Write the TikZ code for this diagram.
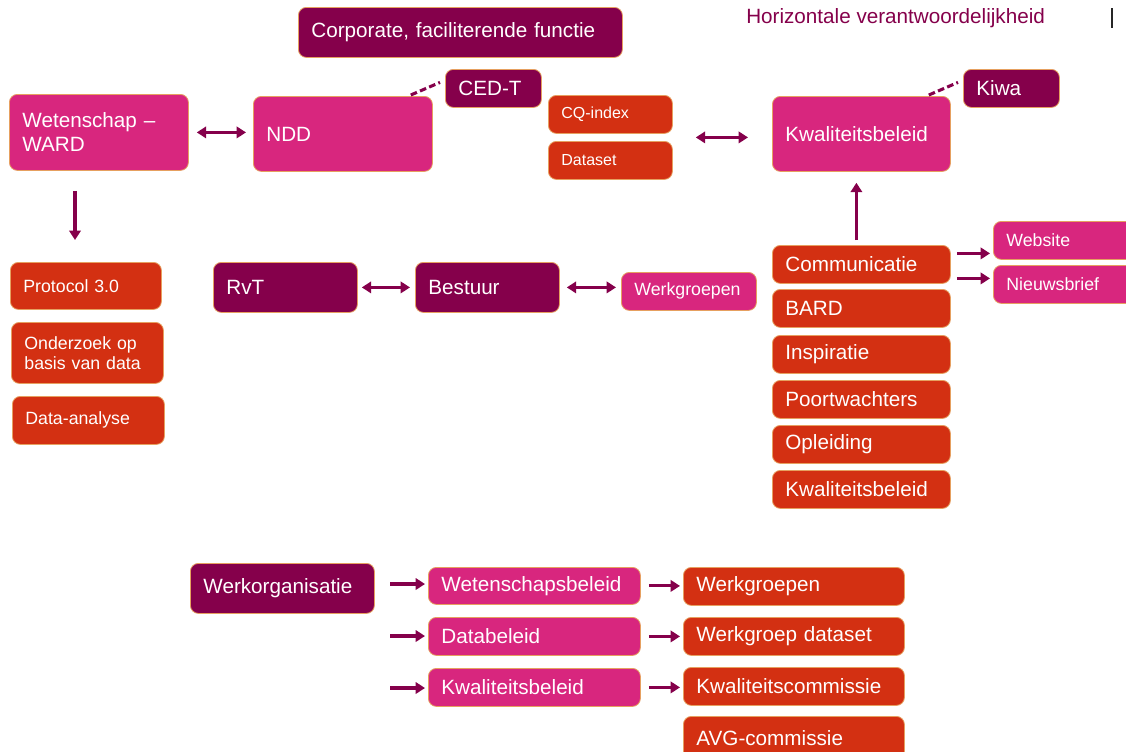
\documentclass[tikz,border=0pt]{standalone}
\usepackage{fontspec}
\setmainfont{Liberation Sans}
\usetikzlibrary{calc,arrows.meta}
\definecolor{dpurple}{HTML}{85004B}
\definecolor{mag}{HTML}{D8267E}
\definecolor{ored}{HTML}{D33012}
\definecolor{edgec}{HTML}{E6A060}
\newcommand\fbig{\fontsize{15.5}{18}\selectfont}
\newcommand\fmid{\fontsize{13.3}{15}\selectfont}
\newcommand\fsmall{\fontsize{12}{14}\selectfont}
% name, style, x1, y1, x2, y2, text
\newcommand\mybox[7]{%
  \pgfmathsetmacro\bw{(#5-#3)*0.75}%
  \pgfmathsetmacro\bh{(#6-#4)*0.75}%
  \pgfmathsetmacro\tw{(#5-#3-26)*0.75}%
  \node[#2, anchor=north west, minimum width=\bw pt, minimum height=\bh pt, text width=\tw pt] (#1) at (#3,#4) {#7};}
\tikzset{
  base/.style={rounded corners=6pt, draw=edgec, line width=0.6pt, text=white, inner xsep=9.75pt, inner ysep=0pt, align=left, font=\fbig},
  pbox/.style={base, fill=dpurple},
  mbox/.style={base, fill=mag},
  obox/.style={base, fill=ored},
  midf/.style={font=\fmid},
  smallf/.style={font=\fsmall},
  conn/.style={draw=dpurple, line width=2.3pt, -{Triangle[length=7pt,width=8.5pt]}},
  biconn/.style={draw=dpurple, line width=2.3pt, {Triangle[length=7pt,width=8.5pt]}-{Triangle[length=7pt,width=8.5pt]}},
  dashconn/.style={draw=dpurple, line width=2.3pt, dash pattern=on 5pt off 2.5pt}
}
\begin{document}
\begin{tikzpicture}[x=0.75pt,y=-0.75pt]
\fill[white] (0,0) rectangle (1126,751);
\useasboundingbox (0,0) rectangle (1126,751);

% top
\mybox{corp}{pbox}{298}{7}{622}{57}{Corporate, faciliterende functie}
\node[anchor=west, text=dpurple, font=\fbig, inner sep=0pt] (hv) at (746,18) {Horizontale verantwoordelijkheid};
\draw[line width=0.9pt, black!85] (1112,8) -- (1112,28);

\mybox{cedt}{pbox}{445}{69}{541}{107}{CED-T}
\mybox{ward}{mbox}{9}{94}{188}{170}{Wetenschap –\\WARD}
\mybox{ndd}{mbox}{253}{96}{432}{171}{NDD}
\mybox{cq}{obox,smallf}{548}{95}{672}{133}{CQ-index}
\mybox{ds}{obox,smallf}{548}{141}{672}{179}{Dataset}
\mybox{kwal}{mbox}{772}{96}{950}{171}{Kwaliteitsbeleid}
\mybox{kiwa}{pbox}{963}{69}{1059}{107}{Kiwa}

% left column
\mybox{prot}{obox,midf}{10}{262}{161}{309}{Protocol 3.0}
\mybox{ond}{obox,midf}{11}{322}{163}{383}{Onderzoek op\\basis van data}
\mybox{da}{obox,midf}{12}{396}{164}{444}{Data-analyse}

% middle row
\mybox{rvt}{pbox}{213}{262}{357}{312}{RvT}
\mybox{best}{pbox}{415}{262}{559}{312}{Bestuur}
\mybox{wg}{mbox,midf}{621}{272}{756}{310}{Werkgroepen}

% right column
\mybox{comm}{obox}{772}{245}{950}{283}{Communicatie}
\mybox{bard}{obox}{772}{289}{950}{327}{BARD}
\mybox{insp}{obox}{772}{335}{950}{373}{Inspiratie}
\mybox{poort}{obox}{772}{380}{950}{418}{Poortwachters}
\mybox{opl}{obox}{772}{425}{950}{463}{Opleiding}
\mybox{kwal2}{obox}{772}{470}{950}{508}{Kwaliteitsbeleid}
\mybox{web}{mbox,midf}{993}{221}{1140}{259}{Website}
\mybox{nieuw}{mbox,midf}{993}{265}{1140}{303}{Nieuwsbrief}

% bottom
\mybox{wo}{pbox}{190}{563}{374}{613}{Werkorganisatie}
\mybox{wb}{mbox}{428}{567}{640}{604}{Wetenschapsbeleid}
\mybox{db}{mbox}{428}{617}{640}{655}{Databeleid}
\mybox{kb}{mbox}{428}{668}{640}{706}{Kwaliteitsbeleid}
\mybox{wg2}{obox}{683}{567}{904}{605}{Werkgroepen}
\mybox{wgd}{obox}{683}{617}{904}{655}{Werkgroep dataset}
\mybox{kc}{obox}{683}{667}{904}{705}{Kwaliteitscommissie}
\mybox{avg}{obox}{683}{716}{904}{760}{AVG-commissie}

% connectors
\draw[biconn, shorten <=6pt, shorten >=5.25pt] (ward.east) -- (ward.east -| ndd.west);
\coordinate (cqds) at ($(cq.south east)!0.5!(ds.north east)$);
\draw[biconn, shorten <=17.25pt, shorten >=18pt] (cqds) -- (cqds -| kwal.west);
\draw[dashconn] ($(ndd.north east)+(-22,-1)$) -- ($(cedt.west)+(-5,-6)$);
\draw[dashconn] ($(kwal.north east)+(-22,-1)$) -- ($(kiwa.west)+(-5,-6)$);

\coordinate (wd) at ($(ward.south west)+(66,0)$);
\draw[conn, shorten <=15pt, shorten >=16.5pt] (wd) -- (wd |- prot.north);

\coordinate (cu) at ($(comm.north)+(-5,0)$);
\draw[conn, shorten <=3.75pt, shorten >=8.25pt] (cu) -- (cu |- kwal.south);

\draw[biconn, shorten <=3pt, shorten >=3.75pt] (rvt.east) -- (best.west);
\draw[biconn, shorten <=5.25pt, shorten >=3.75pt] (best.east) -- (best.east -| wg.west);

\coordinate (cw) at ($(comm.east)+(0,-11)$);
\coordinate (cn) at ($(comm.east)+(0,14)$);
\draw[conn, shorten <=4.5pt, shorten >=2.25pt] (cw) -- (cw -| web.west);
\draw[conn, shorten <=4.5pt, shorten >=2.25pt] (cn) -- (cn -| nieuw.west);

\coordinate (s1) at (390,584);
\coordinate (s2) at (390,636);
\coordinate (s3) at (390,688);
\draw[conn, shorten >=2.25pt] (s1) -- (s1 -| wb.west);
\draw[conn, shorten >=2.25pt] (s2) -- (s2 -| db.west);
\draw[conn, shorten >=2.25pt] (s3) -- (s3 -| kb.west);

\draw[conn, shorten <=6pt, shorten >=2.25pt] (wb.east) -- (wb.east -| wg2.west);
\draw[conn, shorten <=6pt, shorten >=2.25pt] (db.east) -- (db.east -| wgd.west);
\draw[conn, shorten <=6pt, shorten >=2.25pt] (kb.east) -- (kb.east -| kc.west);
\end{tikzpicture}
\end{document}
